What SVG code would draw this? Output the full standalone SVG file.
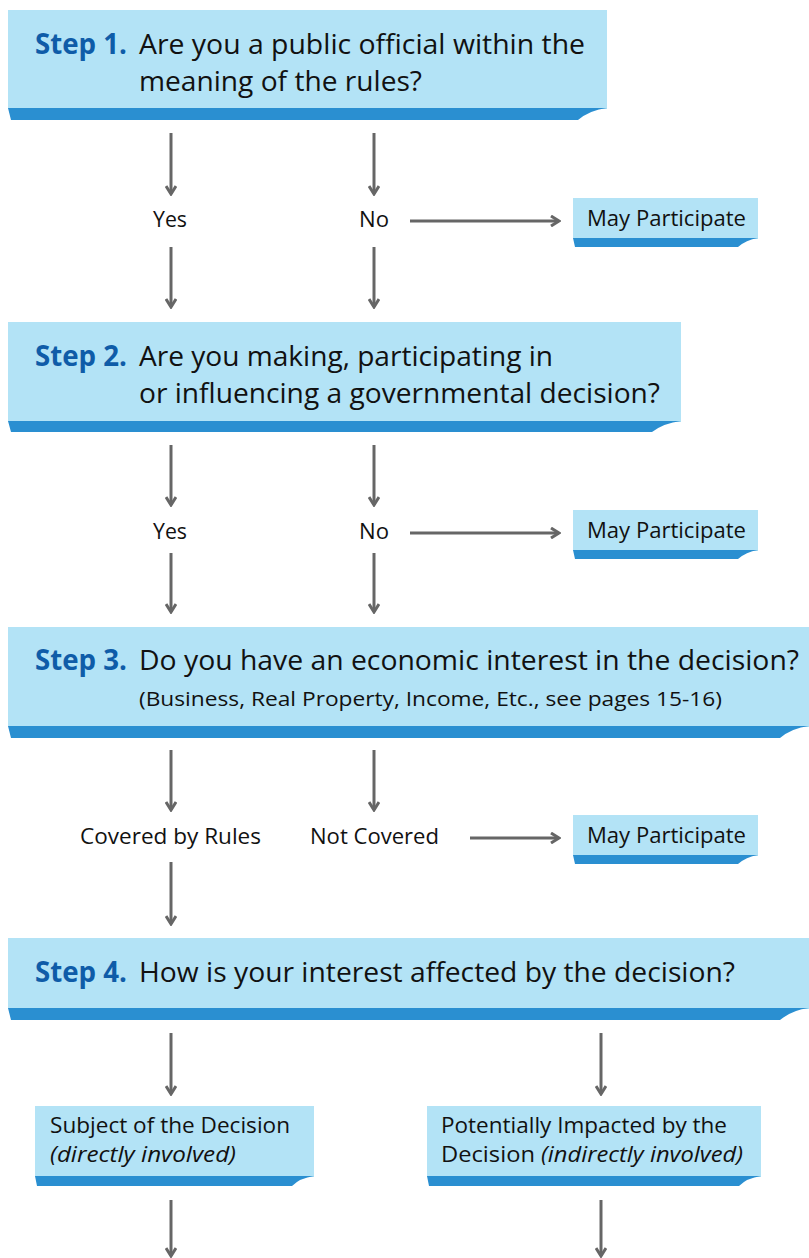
<svg xmlns="http://www.w3.org/2000/svg" width="809" height="1258" viewBox="0 0 809 1258">
<style>
.box{fill:#b3e3f6}
.band{fill:#2a8fd1}
.step{font-family:"Open Sans","Noto Sans",sans-serif;font-weight:bold;font-size:28px;fill:#0f5ca8}
.q{font-family:"Open Sans","Noto Sans",sans-serif;font-size:28px;fill:#111}
.sub{font-family:"Open Sans","Noto Sans",sans-serif;font-size:20px;fill:#111}
.lbl{font-family:"Open Sans","Noto Sans",sans-serif;font-size:22px;fill:#111}
.it{font-style:italic}
.arr{stroke:#666;stroke-width:3;fill:none;marker-end:url(#ah)}
</style>
<defs>
<marker id="ah" viewBox="0 0 12 12" refX="10" refY="6" markerWidth="12" markerHeight="12" markerUnits="userSpaceOnUse" orient="auto">
<polyline points="2,1 10,6 2,11" fill="none" stroke="#666" stroke-width="3"/>
</marker>
</defs>
<rect width="809" height="1258" fill="#fff"/>

<g id="step1">
<rect class="box" x="8" y="10" width="599" height="99"/>
<path class="band" d="M8,108 H607 Q590,110 578,120 H11 Z"/>
<text class="step" x="35" y="54" textLength="92" lengthAdjust="spacingAndGlyphs">Step 1.</text>
<text class="q" x="139" y="54" textLength="446" lengthAdjust="spacingAndGlyphs">Are you a public official within the</text>
<text class="q" x="139" y="91" textLength="283" lengthAdjust="spacingAndGlyphs">meaning of the rules?</text>
</g>

<g id="mp1">
<rect class="box" x="573" y="198" width="185" height="41"/>
<path class="band" d="M573,238 H758 Q746,240 738,247 H575 Z"/>
<text class="lbl" x="587" y="226" textLength="159" lengthAdjust="spacingAndGlyphs">May Participate</text>
</g>
<g id="yes1"><text class="lbl" x="153" y="227" textLength="34" lengthAdjust="spacingAndGlyphs">Yes</text></g>
<g id="no1"><text class="lbl" x="359" y="227" textLength="30" lengthAdjust="spacingAndGlyphs">No</text></g>

<g id="step2">
<rect class="box" x="8" y="322" width="673" height="100"/>
<path class="band" d="M8,421 H681 Q664,423 652,432 H11 Z"/>
<text class="step" x="35" y="366" textLength="92" lengthAdjust="spacingAndGlyphs">Step 2.</text>
<text class="q" x="139" y="366" textLength="414" lengthAdjust="spacingAndGlyphs">Are you making, participating in</text>
<text class="q" x="139" y="403" textLength="521" lengthAdjust="spacingAndGlyphs">or influencing a governmental decision?</text>
</g>

<g id="mp2">
<rect class="box" x="573" y="510" width="185" height="41"/>
<path class="band" d="M573,550 H758 Q746,552 738,559 H575 Z"/>
<text class="lbl" x="587" y="538" textLength="159" lengthAdjust="spacingAndGlyphs">May Participate</text>
</g>
<g id="yes2"><text class="lbl" x="153" y="539" textLength="34" lengthAdjust="spacingAndGlyphs">Yes</text></g>
<g id="no2"><text class="lbl" x="359" y="539" textLength="30" lengthAdjust="spacingAndGlyphs">No</text></g>

<g id="step3">
<rect class="box" x="8" y="627" width="801" height="100"/>
<path class="band" d="M8,726 H809 Q792,728 780,738 H11 Z"/>
<text class="step" x="35" y="670" textLength="92" lengthAdjust="spacingAndGlyphs">Step 3.</text>
<text class="q" x="139" y="670" textLength="660" lengthAdjust="spacingAndGlyphs">Do you have an economic interest in the decision?</text>
<text class="sub" x="139" y="706" textLength="583" lengthAdjust="spacingAndGlyphs">(Business, Real Property, Income, Etc., see pages 15-16)</text>
</g>

<g id="mp3">
<rect class="box" x="573" y="815" width="185" height="41"/>
<path class="band" d="M573,855 H758 Q746,857 738,864 H575 Z"/>
<text class="lbl" x="587" y="843" textLength="159" lengthAdjust="spacingAndGlyphs">May Participate</text>
</g>
<g id="covered"><text class="lbl" x="80" y="844" textLength="181" lengthAdjust="spacingAndGlyphs">Covered by Rules</text></g>
<g id="notcovered"><text class="lbl" x="310" y="844" textLength="129" lengthAdjust="spacingAndGlyphs">Not Covered</text></g>

<g id="step4">
<rect class="box" x="8" y="938" width="801" height="71"/>
<path class="band" d="M8,1008 H809 Q792,1010 780,1020 H11 Z"/>
<text class="step" x="35" y="982" textLength="92" lengthAdjust="spacingAndGlyphs">Step 4.</text>
<text class="q" x="139" y="982" textLength="596" lengthAdjust="spacingAndGlyphs">How is your interest affected by the decision?</text>
</g>

<g id="subject">
<rect class="box" x="35" y="1106" width="279" height="71"/>
<path class="band" d="M35,1176 H314 Q300,1178 292,1186 H37 Z"/>
<text class="lbl" x="50" y="1133" textLength="240" lengthAdjust="spacingAndGlyphs">Subject of the Decision</text>
<text class="lbl it" x="50" y="1162" textLength="186" lengthAdjust="spacingAndGlyphs">(directly involved)</text>
</g>

<g id="impacted">
<rect class="box" x="427" y="1106" width="334" height="71"/>
<path class="band" d="M427,1176 H761 Q747,1178 739,1186 H429 Z"/>
<text class="lbl" x="441" y="1133" textLength="286" lengthAdjust="spacingAndGlyphs">Potentially Impacted by the</text>
<text class="lbl" x="441" y="1162" textLength="302" lengthAdjust="spacingAndGlyphs">Decision <tspan class="it">(indirectly involved)</tspan></text>
</g>

<g id="connectors">
<line class="arr" x1="171" y1="133" x2="171" y2="194"/>
<line class="arr" x1="374" y1="133" x2="374" y2="194"/>
<line class="arr" x1="171" y1="247" x2="171" y2="307"/>
<line class="arr" x1="374" y1="247" x2="374" y2="307"/>
<line class="arr" x1="410" y1="221" x2="559" y2="221"/>

<line class="arr" x1="171" y1="445" x2="171" y2="505"/>
<line class="arr" x1="374" y1="445" x2="374" y2="505"/>
<line class="arr" x1="171" y1="553" x2="171" y2="612"/>
<line class="arr" x1="374" y1="553" x2="374" y2="612"/>
<line class="arr" x1="410" y1="533" x2="559" y2="533"/>

<line class="arr" x1="171" y1="750" x2="171" y2="810"/>
<line class="arr" x1="374" y1="750" x2="374" y2="810"/>
<line class="arr" x1="470" y1="838" x2="559" y2="838"/>
<line class="arr" x1="171" y1="862" x2="171" y2="924"/>

<line class="arr" x1="171" y1="1033" x2="171" y2="1094"/>
<line class="arr" x1="601" y1="1033" x2="601" y2="1094"/>
<line class="arr" x1="171" y1="1200" x2="171" y2="1256"/>
<line class="arr" x1="601" y1="1200" x2="601" y2="1256"/>
</g>
</svg>
